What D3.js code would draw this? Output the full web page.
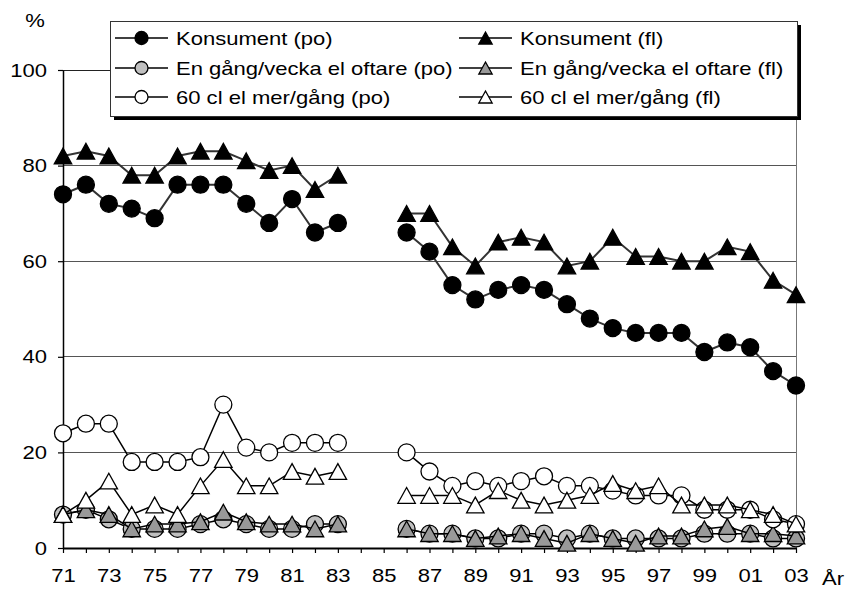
<!DOCTYPE html>
<html>
<head>
<meta charset="utf-8">
<script src="https://cdn.jsdelivr.net/npm/d3@7"></script>
<style>
  html, body { margin: 0; padding: 0; background: #fff; }
  svg { display: block; }
  text { font-family: "Liberation Sans", Arial, Helvetica, sans-serif; fill: #000; }
</style>
</head>
<body>
<svg id="chart" width="849" height="589"></svg>
<script>
// ---------- data ----------
const years = ["71","72","73","74","75","76","77","78","79","80","81","82","83","84","85",
  "86","87","88","89","90","91","92","93","94","95","96","97","98","99","00","01","02","03"];
const yTicks = [0, 20, 40, 60, 80, 100];

const konsumentPo = [74,76,72,71,69,76,76,76,72,68,73,66,68, null,null,
  66,62,55,52,54,55,54,51,48,46,45,45,45,41,43,42,37,34];
const konsumentFl = [82,83,82,78,78,82,83,83,81,79,80,75,78, null,null,
  70,70,63,59,64,65,64,59,60,65,61,61,60,60,63,62,56,53];
const engangPo = [7,8,6,4,4,4,5,6,5,4,4,5,5, null,null,
  4,3,3,2,2,3,3,2,3,2,2,2,2,3,3,3,2,2];
const engangFl = [7,8,7,4,5,5,5.5,7.5,5.5,5,5,4,5, null,null,
  4,3,3,2,2.5,3,2,1,3,2,1,2.5,2.5,4,4.5,3,3,2.5];
const sextioPo = [24,26,26,18,18,18,19,30,21,20,22,22,22, null,null,
  20,16,13,14,13,14,15,13,13,12,11,11,11,8,8,8,6,5];
const sextioFl = [7,10,14,7,9,7,13,18.5,13,13,16,15,16, null,null,
  11,11,11,9,12,10,9,10,11,13.5,12,13,9,9,9,8,7,5];

const seriesNames = [
  "Konsument (po)", "Konsument (fl)",
  "En gång/vecka el oftare (po)", "En gång/vecka el oftare (fl)",
  "60 cl el mer/gång (po)", "60 cl el mer/gång (fl)"
];
const seriesValues = [konsumentPo, konsumentFl, engangPo, engangFl, sextioPo, sextioFl];
const seriesShape = ["circle", "triangle", "circle", "triangle", "circle", "triangle"];
const seriesFill = ["#000000", "#000000", "#c0c0c0", "#999999", "#ffffff", "#ffffff"];
const seriesLine = ["#333333", "#333333", "#000000", "#000000", "#000000", "#000000"];

// ---------- layout ----------
const SX = 1.16;           // horizontal stretch of the original text
const FS = 19;
const plot = { left: 63, right: 796, top: 70, bottom: 548 };

const svg = d3.select("#chart");
const x = d3.scalePoint().domain(years).range([plot.left, plot.right]);
const y = d3.scaleLinear().domain([0, 100]).range([plot.bottom, plot.top]);

function stretchText(sel) {
  sel.each(function () {
    const t = d3.select(this);
    const xv = +t.attr("x") || 0;
    t.attr("x", xv / SX).attr("transform", `scale(${SX},1)`);
  });
}

// gridlines
svg.append("g").selectAll("line")
  .data(yTicks.filter(d => d > 0))
  .join("line")
  .attr("x1", plot.left).attr("x2", plot.right)
  .attr("y1", d => y(d)).attr("y2", d => y(d))
  .attr("stroke", d => d === 100 ? "#222" : "#555")
  .attr("stroke-width", 1)
  .attr("shape-rendering", "crispEdges");

// right border of plot area
svg.append("line")
  .attr("x1", plot.right).attr("x2", plot.right)
  .attr("y1", plot.top).attr("y2", plot.bottom)
  .attr("stroke", "#777").attr("stroke-width", 1)
  .attr("shape-rendering", "crispEdges");

// y axis
const yAxis = svg.append("g")
  .attr("transform", `translate(${plot.left},0)`)
  .call(d3.axisLeft(y).tickValues(yTicks).tickSize(5).tickPadding(11).tickSizeOuter(0));
yAxis.select(".domain").attr("stroke", "#000").attr("stroke-width", 1.5);
yAxis.selectAll(".tick line").attr("stroke", "#000").attr("stroke-width", 1.2);
yAxis.selectAll("text").attr("font-size", FS).attr("fill", "#000")
  .style("font-family", "'Liberation Sans', Arial, sans-serif").call(stretchText);

// x axis
const xAxis = svg.append("g")
  .attr("transform", `translate(0,${plot.bottom})`)
  .call(d3.axisBottom(x).tickSize(5).tickPadding(16).tickSizeOuter(0)
    .tickFormat((d, i) => i % 2 === 0 ? d : ""));
xAxis.select(".domain").attr("stroke", "#000").attr("stroke-width", 2);
xAxis.selectAll(".tick line").attr("stroke", "#000").attr("stroke-width", 1.2);
xAxis.selectAll("text").attr("font-size", FS).attr("fill", "#000")
  .style("font-family", "'Liberation Sans', Arial, sans-serif").call(stretchText);

// axis titles
svg.append("g").attr("transform", "translate(35,20)")
  .append("text").attr("text-anchor", "middle").attr("dy", "0.35em")
  .attr("font-size", FS).attr("transform", `scale(${SX},1)`).text("%");
svg.append("g").attr("transform", "translate(822,578)")
  .append("text").attr("text-anchor", "start").attr("dy", "0.35em")
  .attr("font-size", FS).attr("transform", `scale(${SX},1)`).text("År");

// marker path helpers
function trianglePath(w, h) {
  return `M0,${-h / 2}L${w / 2},${h / 2}L${-w / 2},${h / 2}Z`;
}
function drawMarker(g, shape, fill, r) {
  if (shape === "circle") {
    g.append("circle").attr("r", r).attr("fill", fill)
      .attr("stroke", "#000").attr("stroke-width", 1.3);
  } else {
    g.append("path").attr("d", trianglePath(r * 2.05, r * 1.85)).attr("fill", fill)
      .attr("stroke", "#000").attr("stroke-width", 1.3).attr("stroke-linejoin", "miter");
  }
}

// series
const line = d3.line()
  .defined(d => d.v !== null)
  .x(d => x(d.year))
  .y(d => y(d.v));

seriesValues.forEach((vals, si) => {
  const pts = years.map((yr, i) => ({ year: yr, v: vals[i] }));
  const g = svg.append("g");
  g.append("path").datum(pts)
    .attr("d", line)
    .attr("fill", "none")
    .attr("stroke", seriesLine[si])
    .attr("stroke-width", si < 2 ? 2 : 1.5);
  g.selectAll("g.m").data(pts.filter(d => d.v !== null))
    .join("g").attr("class", "m")
    .attr("transform", d => `translate(${x(d.year)},${y(d.v)})`)
    .each(function () { drawMarker(d3.select(this), seriesShape[si], seriesFill[si], 8.5); });
});

// legend
const lg = { x: 110, y: 21, w: 687, h: 95 };
svg.append("rect").attr("x", lg.x + 4).attr("y", lg.y + 4).attr("width", lg.w).attr("height", lg.h)
  .attr("fill", "#000");
svg.append("rect").attr("x", lg.x).attr("y", lg.y).attr("width", lg.w).attr("height", lg.h)
  .attr("fill", "#fff").attr("stroke", "#333").attr("stroke-width", 1)
  .attr("shape-rendering", "crispEdges");

const colX = [115, 459];
const rowY = [38, 68, 97];
seriesNames.forEach((name, si) => {
  const col = si % 2, row = Math.floor(si / 2);
  const gx = colX[col], gy = rowY[row];
  const item = svg.append("g").attr("transform", `translate(${gx},${gy})`);
  item.append("line").attr("x1", 0).attr("x2", 53).attr("y1", 0).attr("y2", 0)
    .attr("stroke", "#000").attr("stroke-width", 1.5);
  const m = item.append("g").attr("transform", "translate(26.5,0)");
  drawMarker(m, seriesShape[si], seriesFill[si], 6.5);
  item.append("g").attr("transform", "translate(61,0)")
    .append("text").attr("dy", "0.35em").attr("font-size", FS)
    .attr("transform", `scale(${SX},1)`).text(name);
});
</script>
</body>
</html>
